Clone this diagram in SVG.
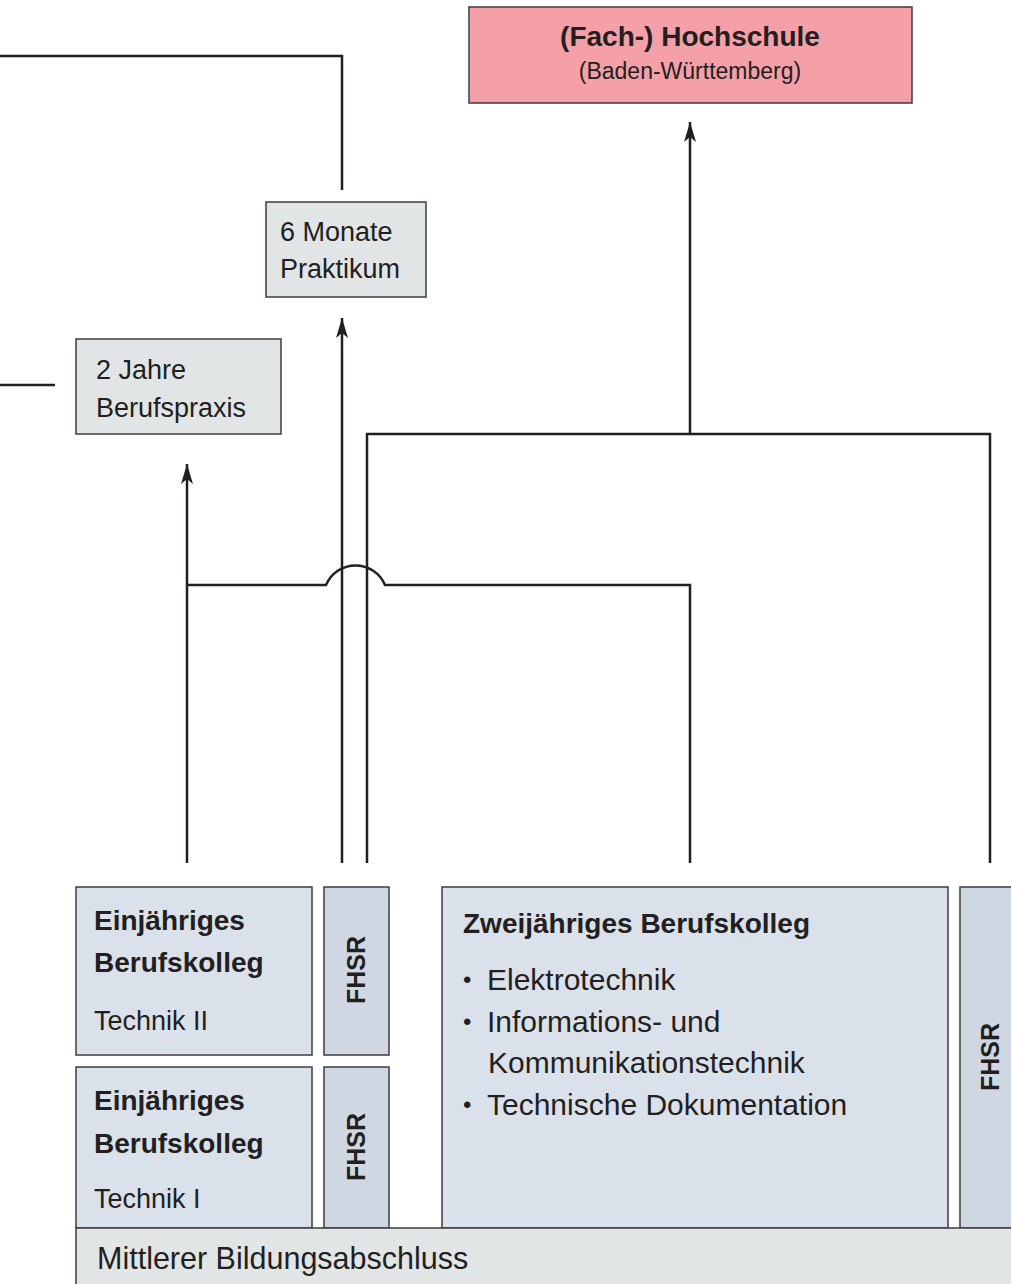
<svg xmlns="http://www.w3.org/2000/svg" width="1011" height="1284" viewBox="0 0 1011 1284">
<style>
.box{stroke:#3c3c3e;stroke-width:1.5}
.grey{fill:#e2e5e6}
.blue{fill:#dbe1ea}
.fh{fill:#ced7e2}
.pink{fill:#f5a0a9}
.ln{fill:none;stroke:#231f20;stroke-width:2.5}
text{font-family:"Liberation Sans",Arial,sans-serif;fill:#231f20}
.b{font-weight:bold}
.bul{font-size:24px}
</style>
<defs>
<marker id="ah" viewBox="-22 -7 24 14" refX="0" refY="0" markerWidth="24" markerHeight="14" markerUnits="userSpaceOnUse" orient="auto">
<path d="M0,0 L-20,-6 L-15,0 L-20,6 Z" fill="#231f20"/>
</marker>
</defs>
<rect width="1011" height="1284" fill="#fff"/>
<g id="connectors">
<path class="ln" d="M0,56 H342 V190"/>
<path class="ln" d="M0,385 H55"/>
<path class="ln" d="M342,863 V318" marker-end="url(#ah)"/>
<path class="ln" d="M187,863 V464" marker-end="url(#ah)"/>
<path class="ln" d="M187,585 H326 A32,32 0 0 1 385,585 H690 V863"/>
<path class="ln" d="M367,863 V434 H990 V863"/>
<path class="ln" d="M690,434 V122" marker-end="url(#ah)"/>
</g>
<g id="hochschule">
<rect class="box pink" x="469" y="7" width="443" height="96"/>
<text class="b" x="690" y="46" font-size="28" text-anchor="middle">(Fach-) Hochschule</text>
<text x="690" y="79" font-size="23" text-anchor="middle">(Baden-Württemberg)</text>
</g>
<g id="praktikum">
<rect class="box grey" x="266" y="202" width="160" height="95"/>
<text x="280" y="241" font-size="27">6 Monate</text>
<text x="280" y="278" font-size="27">Praktikum</text>
</g>
<g id="berufspraxis">
<rect class="box grey" x="76" y="339" width="205" height="95"/>
<text x="96" y="379" font-size="27">2 Jahre</text>
<text x="96" y="417" font-size="27">Berufspraxis</text>
</g>
<g id="bk-technik2">
<rect class="box blue" x="76" y="887" width="236" height="168"/>
<text class="b" x="94" y="930" font-size="28">Einjähriges</text>
<text class="b" x="94" y="972" font-size="28">Berufskolleg</text>
<text x="94" y="1030" font-size="27">Technik II</text>
</g>
<g id="fhsr1">
<rect class="box fh" x="324" y="887" width="65" height="168"/>
<text class="b" font-size="25" text-anchor="middle" transform="translate(365,970) rotate(-90)">FHSR</text>
</g>
<g id="bk-technik1">
<rect class="box blue" x="76" y="1067" width="236" height="161"/>
<text class="b" x="94" y="1110" font-size="28">Einjähriges</text>
<text class="b" x="94" y="1153" font-size="28">Berufskolleg</text>
<text x="94" y="1208" font-size="27">Technik I</text>
</g>
<g id="fhsr2">
<rect class="box fh" x="324" y="1067" width="65" height="161"/>
<text class="b" font-size="25" text-anchor="middle" transform="translate(365,1147) rotate(-90)">FHSR</text>
</g>
<g id="bk-zweijaehrig">
<rect class="box blue" x="442" y="887" width="506" height="341"/>
<text class="b" x="463" y="933" font-size="28">Zweijähriges Berufskolleg</text>
<text class="bul" x="463" y="988">•</text>
<text x="487" y="990" font-size="30">Elektrotechnik</text>
<text class="bul" x="463" y="1030">•</text>
<text x="487" y="1032" font-size="30">Informations- und</text>
<text x="488" y="1073" font-size="30">Kommunikationstechnik</text>
<text class="bul" x="463" y="1113">•</text>
<text x="487" y="1115" font-size="30">Technische Dokumentation</text>
</g>
<g id="fhsr3">
<rect class="box fh" x="960" y="887" width="60" height="341"/>
<text class="b" font-size="25" text-anchor="middle" transform="translate(999,1057) rotate(-90)">FHSR</text>
</g>
<g id="mittlerer">
<rect class="box grey" x="76" y="1228" width="944" height="70"/>
<text x="97" y="1269" font-size="30.5">Mittlerer Bildungsabschluss</text>
</g>
</svg>
